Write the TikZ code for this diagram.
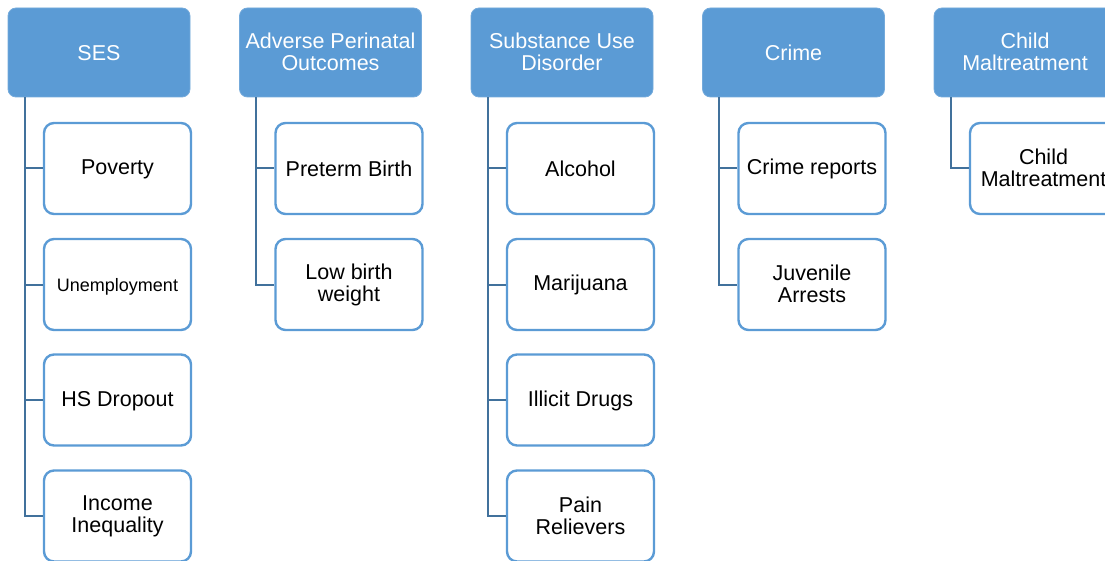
\documentclass[tikz,border=0pt]{standalone}
\usepackage{fontspec}
\setsansfont{Liberation Sans}
\usetikzlibrary{positioning}
\definecolor{hblue}{HTML}{5B9BD5}
\definecolor{lblue}{HTML}{41719C}
\tikzset{
  every picture/.style={font=\sffamily\fontsize{21.5}{22}\selectfont},
  txt/.style={execute at begin node={\rule{0pt}{17pt}}, execute at end node={\rule[-1pt]{0pt}{1pt}}},
  hdr/.style={txt, fill=hblue, draw=hblue!85!white, line width=0.8pt, rounded corners=8pt, text=white, align=center,
    minimum width=182pt, minimum height=89pt, inner sep=2pt},
  item/.style={txt, draw=hblue, fill=white, line width=2.4pt, rounded corners=10pt, align=center,
    minimum width=147pt, minimum height=91pt, inner sep=2pt},
  link/.style={draw=lblue, line width=2pt},
}

\begin{document}
\begin{tikzpicture}[x=1pt, y=-1pt]
  \useasboundingbox (0,0) rectangle (1105,561);

  % header row
  \node[hdr] (ses)   at (99,52.5)    {SES};
  \node[hdr] (apo)   at (330.5,52.5) {Adverse Perinatal\\Outcomes};
  \node[hdr] (sud)   at (562,52.5)   {Substance Use\\Disorder};
  \node[hdr] (crime) at (793.5,52.5) {Crime};
  \node[hdr] (cm)    at (1025,52.5)  {Child\\Maltreatment};

  % SES
  \node[item] (pov) at (117.5,168.5) {Poverty};
  \node[item] (une) at (117.5,284.5) {\fontsize{18}{20}\selectfont Unemployment};
  \node[item] (hsd) at (117.5,400)   {HS Dropout};
  \node[item] (inc) at (117.5,516)   {Income\\Inequality};
  % perinatal
  \node[item] (pre) at (349,168.5) {Preterm Birth};
  \node[item] (lbw) at (349,284.5) {Low birth\\weight};
  % substance use
  \node[item] (alc) at (580.5,168.5) {Alcohol};
  \node[item] (mar) at (580.5,284.5) {Marijuana};
  \node[item] (ill) at (580.5,400)   {Illicit Drugs};
  \node[item] (pai) at (580.5,516)   {Pain\\Relievers};
  % crime
  \node[item] (rep) at (812,168.5) {Crime reports};
  \node[item] (juv) at (812,284.5) {Juvenile\\Arrests};
  % maltreatment
  \node[item] (cmi) at (1043.5,168.5) {Child\\Maltreatment};

  \foreach \c in {pov, une, hsd, inc} \draw[link] ([xshift=17pt]ses.south west) |- (\c.west);
  \foreach \c in {pre, lbw} \draw[link] ([xshift=17pt]apo.south west) |- (\c.west);
  \foreach \c in {alc, mar, ill, pai} \draw[link] ([xshift=17pt]sud.south west) |- (\c.west);
  \foreach \c in {rep, juv} \draw[link] ([xshift=17pt]crime.south west) |- (\c.west);
  \draw[link] ([xshift=17pt]cm.south west) |- (cmi.west);
\end{tikzpicture}
\end{document}
